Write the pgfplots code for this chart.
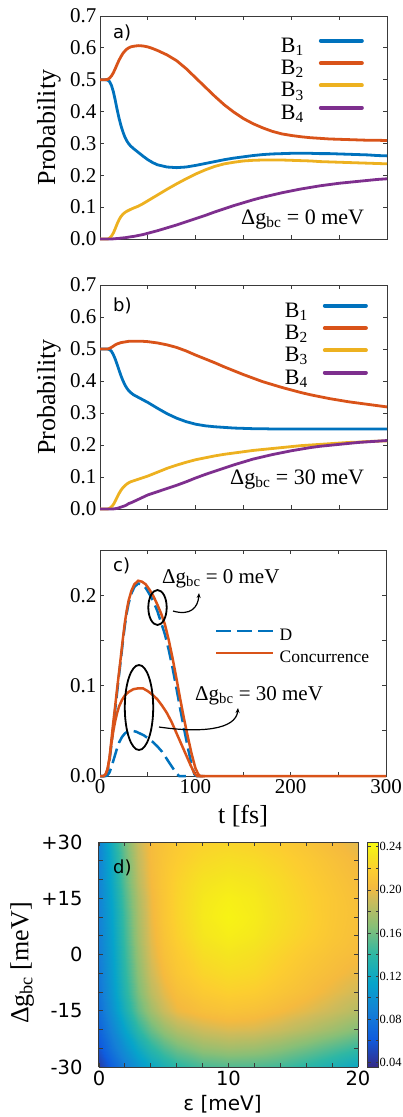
\documentclass[border=0pt]{standalone}
\usepackage{fontspec}
\setmainfont{Liberation Serif}
\newfontfamily\sansf{DejaVu Sans}
\usepackage{pgfplots}
\pgfplotsset{compat=1.18}
\usepackage{pgfplotstable}
\usetikzlibrary{arrows.meta}

\definecolor{mblue}{rgb}{0,0.447,0.741}
\definecolor{morange}{rgb}{0.85,0.325,0.098}
\definecolor{myellow}{rgb}{0.929,0.694,0.125}
\definecolor{mpurple}{rgb}{0.494,0.184,0.556}
\definecolor{frm}{HTML}{3A3A3A}

\pgfplotsset{colormap={parula}{rgb255(0cm)=(53,42,135) rgb255(1.25cm)=(15,92,221) rgb255(2.5cm)=(20,129,214) rgb255(3.75cm)=(6,164,202) rgb255(5cm)=(46,183,164) rgb255(6.25cm)=(135,191,119) rgb255(7.5cm)=(209,187,89) rgb255(8cm)=(245,186,62) rgb255(8.75cm)=(252,205,48) rgb255(9.4cm)=(245,228,32) rgb255(10cm)=(249,251,14)}}

\pgfplotsset{
  panel/.style={
    scale only axis,
    axis line style={frm, line width=1pt},
    every tick/.style={frm, line width=0.8pt},
    tick align=inside,
    major tick length=4pt, minor tick length=4pt,
    tick label style={font=\fontsize{21}{21}\selectfont},
    /pgf/number format/assume math mode=true,
    label style={font=\fontsize{26}{26}\selectfont},
    clip=false,
  },
  probpanel/.style={
    panel, width=287pt, xmin=0, xmax=300, ymin=0, ymax=0.7,
    xtick={0,50,...,300}, xticklabels={},
    ytick={0,0.1,...,0.7},
    yticklabel style={/pgf/number format/.cd, fixed, precision=1, zerofill},
    ylabel={Probability},
    ylabel style={at={(axis description cs:-0.178,0.5)}, anchor=center},
    legend style={draw=none, fill=none, font=\fontsize{22}{22}\selectfont, inner sep=0pt,
      row sep=3.3pt, column sep=15pt, nodes={inner sep=0pt, text height=14pt, text depth=5pt}},
    legend plot pos=right, legend cell align=left,
    legend image code/.code={\draw[##1, line width=4pt, line cap=round] (0pt,7pt) -- (41pt,7pt);},
  },
}

\pgfplotstableread{
t B1 B2 B3 B4
0 0.500 0.500 0 0
5 0.500 0.500 0 0
8 0.499 0.501 0.000 0
10 0.494 0.505 0.003 0
12 0.482 0.512 0.009 0
14 0.462 0.522 0.019 0.0005
16 0.435 0.535 0.033 0.001
18 0.405 0.549 0.048 0.0015
20 0.378 0.562 0.061 0.002
22 0.355 0.573 0.071 0.003
24 0.336 0.583 0.078 0.0035
26 0.320 0.590 0.083 0.004
28 0.308 0.596 0.087 0.005
30 0.299 0.600 0.090 0.006
32 0.292 0.603 0.093 0.007
35 0.284 0.605 0.097 0.008
40 0.272 0.607 0.103 0.011
45 0.260 0.606 0.111 0.014
50 0.249 0.603 0.120 0.018
55 0.240 0.598 0.129 0.022
60 0.233 0.592 0.138 0.026
70 0.226 0.578 0.156 0.035
80 0.224 0.560 0.173 0.044
90 0.226 0.535 0.189 0.054
100 0.231 0.506 0.204 0.064
110 0.237 0.477 0.217 0.074
120 0.243 0.448 0.228 0.085
130 0.249 0.421 0.236 0.095
140 0.254 0.398 0.241 0.105
150 0.258 0.378 0.245 0.114
160 0.262 0.362 0.247 0.123
170 0.265 0.349 0.248 0.131
180 0.267 0.338 0.248 0.138
190 0.268 0.330 0.248 0.145
200 0.269 0.325 0.247 0.151
210 0.269 0.321 0.246 0.157
220 0.269 0.318 0.245 0.162
230 0.268 0.316 0.243 0.167
240 0.268 0.314 0.242 0.171
250 0.267 0.313 0.241 0.175
260 0.266 0.312 0.240 0.178
270 0.265 0.311 0.239 0.181
280 0.264 0.310 0.238 0.184
290 0.262 0.310 0.237 0.187
300 0.261 0.309 0.236 0.189
}\tabA

\pgfplotstableread{
t B1 B2 B3 B4
0 0.500 0.500 0 0
5 0.500 0.500 0 0
8 0.500 0.500 0 0
10 0.498 0.502 0.002 0
12 0.493 0.505 0.007 0
14 0.482 0.509 0.014 0.0003
16 0.468 0.513 0.025 0.001
18 0.451 0.516 0.037 0.002
20 0.433 0.518 0.049 0.004
22 0.416 0.520 0.059 0.006
24 0.401 0.521 0.067 0.008
26 0.388 0.522 0.073 0.010
28 0.378 0.523 0.078 0.013
30 0.370 0.524 0.082 0.017
32 0.364 0.524 0.085 0.019
35 0.357 0.524 0.088 0.023
40 0.349 0.524 0.093 0.030
45 0.341 0.524 0.098 0.037
50 0.333 0.523 0.103 0.044
55 0.324 0.521 0.109 0.049
60 0.315 0.519 0.115 0.054
70 0.298 0.513 0.127 0.064
80 0.284 0.505 0.137 0.074
90 0.273 0.494 0.146 0.085
100 0.265 0.481 0.154 0.097
110 0.260 0.469 0.160 0.108
120 0.257 0.457 0.166 0.118
130 0.255 0.444 0.171 0.128
140 0.253 0.432 0.175 0.138
150 0.252 0.420 0.179 0.147
160 0.251 0.409 0.183 0.156
170 0.251 0.398 0.186 0.163
180 0.250 0.389 0.189 0.170
190 0.250 0.380 0.192 0.176
200 0.250 0.372 0.195 0.182
210 0.250 0.364 0.198 0.187
220 0.250 0.357 0.200 0.192
230 0.250 0.351 0.202 0.196
240 0.250 0.345 0.204 0.199
250 0.250 0.340 0.206 0.202
260 0.250 0.335 0.208 0.205
270 0.250 0.331 0.209 0.208
280 0.250 0.327 0.211 0.210
290 0.250 0.323 0.212 0.212
300 0.250 0.319 0.213 0.214
}\tabB

\pgfplotstableread{
t C
0 0
4 0
6 0.002
8 0.008
10 0.020
12 0.040
14 0.060
16 0.078
18 0.097
20 0.115
22 0.133
24 0.152
26 0.169
28 0.183
30 0.194
33 0.205
36 0.212
40 0.216
44 0.215
48 0.212
52 0.206
56 0.199
60 0.190
64 0.180
68 0.168
72 0.151
76 0.131
80 0.109
84 0.086
88 0.064
92 0.044
96 0.025
100 0.009
103 0.002
105 0
110 0
300 0
}\tabCzero

\pgfplotstableread{
t D
0 0
4 0
6 0.001
8 0.006
10 0.017
12 0.035
14 0.055
16 0.074
18 0.093
20 0.112
22 0.130
24 0.149
26 0.166
28 0.180
30 0.191
33 0.202
36 0.209
40 0.213
44 0.212
48 0.208
52 0.201
56 0.193
60 0.183
64 0.170
68 0.157
72 0.140
76 0.120
80 0.098
84 0.075
88 0.053
92 0.032
96 0.013
99 0.002
101 0
110 0
}\tabDzero

\pgfplotstableread{
t C
0 0
4 0
6 0.002
8 0.008
10 0.020
12 0.036
14 0.050
16 0.061
18 0.070
20 0.077
23 0.084
26 0.089
30 0.093
35 0.096
40 0.097
45 0.097
50 0.094
55 0.090
60 0.085
65 0.078
70 0.070
75 0.060
80 0.048
85 0.036
90 0.024
95 0.012
99 0.003
102 0
110 0
}\tabCthirty

\pgfplotstableread{
t D
0 0
6 0
8 0.001
10 0.004
12 0.010
14 0.017
16 0.024
18 0.031
20 0.037
23 0.043
26 0.047
30 0.050
34 0.050
38 0.049
42 0.047
46 0.045
50 0.042
55 0.038
60 0.033
65 0.027
70 0.019
75 0.011
80 0.003
83 0
90 0
}\tabDthirty

\begin{document}
\begin{tikzpicture}[x=1pt,y=1pt]
\useasboundingbox (0,0) rectangle (402,-1117);

% ---------------- panel a
\begin{axis}[probpanel, at={(100pt,-239pt)}, anchor=south west, height=223pt,
  legend style={at={(axis description cs:0.920,0.901)}, anchor=north east}]
\addplot[mblue, line width=2.8pt] table[x=t,y=B1] {\tabA};
\addlegendentry{B\textsubscript{1}}
\addplot[morange, line width=2.8pt] table[x=t,y=B2] {\tabA};
\addlegendentry{B\textsubscript{2}}
\addplot[myellow, line width=2.8pt] table[x=t,y=B3] {\tabA};
\addlegendentry{B\textsubscript{3}}
\addplot[mpurple, line width=2.8pt] table[x=t,y=B4] {\tabA};
\addlegendentry{B\textsubscript{4}}
\end{axis}
\node[anchor=base west, inner sep=0pt, font=\sansf\fontsize{18}{18}\selectfont] at (113,-38) {a)};
\node[anchor=base west, inner sep=0pt, font=\fontsize{22}{22}\selectfont] at (241,-224) {Δg\textsubscript{bc} = 0 meV};

% ---------------- panel b
\begin{axis}[probpanel, at={(100pt,-509pt)}, anchor=south west, height=224pt,
  legend style={at={(axis description cs:0.934,0.920)}, anchor=north east}]
\addplot[mblue, line width=2.8pt] table[x=t,y=B1] {\tabB};
\addlegendentry{B\textsubscript{1}}
\addplot[morange, line width=2.8pt] table[x=t,y=B2] {\tabB};
\addlegendentry{B\textsubscript{2}}
\addplot[myellow, line width=2.8pt] table[x=t,y=B3] {\tabB};
\addlegendentry{B\textsubscript{3}}
\addplot[mpurple, line width=2.8pt] table[x=t,y=B4] {\tabB};
\addlegendentry{B\textsubscript{4}}
\end{axis}
\node[anchor=base west, inner sep=0pt, font=\sansf\fontsize{18}{18}\selectfont] at (113,-311) {b)};
\node[anchor=base west, inner sep=0pt, font=\fontsize{22}{22}\selectfont] at (230,-484) {Δg\textsubscript{bc} = 30 meV};

% ---------------- panel c
\begin{axis}[panel, at={(100pt,-776pt)}, anchor=south west, width=286pt, height=226pt,
  xmin=0, xmax=300, ymin=0, ymax=0.25,
  xtick={0,100,200,300}, minor xtick={50,150,250},
  ytick={0,0.1,0.2}, minor ytick={0.05,0.15},
  yticklabel style={/pgf/number format/.cd, fixed, precision=1, zerofill},
  xlabel={t [fs]},
  xlabel style={at={(axis description cs:0.5,0)}, anchor=north, yshift=-29pt, inner sep=0pt},
  legend style={draw=none, fill=none, font=\fontsize{17.5}{17.5}\selectfont, inner sep=0pt,
    at={(axis description cs:0.402,0.655)}, anchor=north west,
    row sep=6pt, column sep=5pt, nodes={inner sep=0pt, text height=12pt, text depth=4pt}},
  legend cell align=left,
  legend image code/.code={\draw[#1] (0pt,5pt) -- (57pt,5pt);},
]
\addplot[mblue, line width=2.5pt, dash pattern=on 15pt off 6pt] table[x=t,y=D] {\tabDzero};
\addlegendentry{D}
\addplot[morange, line width=2.5pt] table[x=t,y=C] {\tabCzero};
\addlegendentry{Concurrence}
\addplot[mblue, line width=2.5pt, dash pattern=on 15pt off 6pt, forget plot] table[x=t,y=D] {\tabDthirty};
\addplot[morange, line width=2.5pt, forget plot] table[x=t,y=C] {\tabCthirty};
\end{axis}
\node[anchor=base west, inner sep=0pt, font=\sansf\fontsize{18}{18}\selectfont] at (113,-571) {c)};
\node[anchor=base west, inner sep=0pt, font=\fontsize{21}{21}\selectfont] at (162,-583) {Δg\textsubscript{bc} = 0 meV};
\node[anchor=base west, inner sep=0pt, font=\fontsize{21}{21}\selectfont] at (195,-700) {Δg\textsubscript{bc} = 30 meV};
\draw[black, line width=1.8pt] (157.5,-607.5) ellipse [x radius=9.2, y radius=17.5];
\draw[black, line width=1.8pt] (139,-707.5) ellipse [x radius=14.2, y radius=42.5];
\draw[black, line width=1.2pt, -{Stealth[length=5pt,width=4pt]}] (173,-611) .. controls (190,-616) and (198,-608) .. (199,-593);
\draw[black, line width=1.2pt, -{Stealth[length=5pt,width=4pt]}] (159,-727) .. controls (200,-733) and (236,-730) .. (238,-708);

% ---------------- panel d
\begin{axis}[panel, at={(99pt,-1067pt)}, anchor=south west, width=259pt, height=225pt,
  xmin=0, xmax=20, ymin=-30, ymax=30, view={0}{90}, axis on top, enlargelimits=false,
  xtick={0,10,20}, minor xtick={2,4,6,8,12,14,16,18},
  ytick={-30,-15,0,15,30}, yticklabels={-30,-15,0,+15,+30},
  minor ytick={-25,-20,-10,-5,5,10,20,25},
  tick label style={font=\sansf\fontsize{19.5}{19.5}\selectfont},
  yticklabel style={xshift=-13pt},
  xlabel={\sansf\fontsize{20}{20}\selectfont ε [meV]},
  xlabel style={at={(axis description cs:0.477,0)}, anchor=north, yshift=-28pt, inner sep=0pt},
  ylabel={Δg\textsubscript{bc} [meV]},
  ylabel style={at={(axis description cs:-0.297,0.462)}, anchor=center},
  colormap name=parula, point meta min=0.0355, point meta max=0.2445,
  colorbar,
  colorbar style={scale only axis, width=11pt, height=225pt,
    at={(parent axis.north east)}, anchor=north west, xshift=1pt,
    axis line style={frm, line width=1pt},
    ytick={0.04,0.08,0.12,0.16,0.20,0.24},
    yticklabels={0.04,0.08,0.12,0.16,0.20,0.24},
    minor ytick={0.06,0.10,0.14,0.18,0.22},
    tick align=inside, major tick length=3pt, minor tick length=3pt,
    every tick/.style={frm, line width=0.8pt},
    yticklabel style={font=\fontsize{12.5}{12.5}\selectfont, inner sep=1pt, xshift=0pt}},
]
\addplot3[surf, shader=interp, mesh/rows=13, mesh/cols=14] coordinates {
(0,-30,0.045) (1,-30,0.065) (2,-30,0.085) (3,-30,0.102) (4,-30,0.117) (5,-30,0.128) (6,-30,0.137) (8,-30,0.147) (10,-30,0.150) (12,-30,0.149) (14,-30,0.145) (16,-30,0.137) (18,-30,0.128) (20,-30,0.118)
(0,-25,0.058) (1,-25,0.080) (2,-25,0.100) (3,-25,0.120) (4,-25,0.137) (5,-25,0.150) (6,-25,0.160) (8,-25,0.172) (10,-25,0.176) (12,-25,0.174) (14,-25,0.168) (16,-25,0.160) (18,-25,0.151) (20,-25,0.142)
(0,-20,0.067) (1,-20,0.090) (2,-20,0.114) (3,-20,0.138) (4,-20,0.157) (5,-20,0.171) (6,-20,0.181) (8,-20,0.191) (10,-20,0.195) (12,-20,0.194) (14,-20,0.189) (16,-20,0.182) (18,-20,0.174) (20,-20,0.165)
(0,-15,0.075) (1,-15,0.100) (2,-15,0.128) (3,-15,0.155) (4,-15,0.175) (5,-15,0.190) (6,-15,0.200) (8,-15,0.207) (10,-15,0.210) (12,-15,0.208) (14,-15,0.203) (16,-15,0.197) (18,-15,0.190) (20,-15,0.182)
(0,-10,0.079) (1,-10,0.105) (2,-10,0.135) (3,-10,0.163) (4,-10,0.185) (5,-10,0.198) (6,-10,0.207) (8,-10,0.216) (10,-10,0.220) (12,-10,0.218) (14,-10,0.212) (16,-10,0.206) (18,-10,0.199) (20,-10,0.192)
(0,-5,0.082) (1,-5,0.108) (2,-5,0.139) (3,-5,0.168) (4,-5,0.191) (5,-5,0.204) (6,-5,0.213) (8,-5,0.223) (10,-5,0.227) (12,-5,0.225) (14,-5,0.218) (16,-5,0.211) (18,-5,0.205) (20,-5,0.199)
(0,0,0.085) (1,0,0.110) (2,0,0.142) (3,0,0.172) (4,0,0.195) (5,0,0.208) (6,0,0.216) (8,0,0.228) (10,0,0.232) (12,0,0.229) (14,0,0.222) (16,0,0.215) (18,0,0.209) (20,0,0.204)
(0,5,0.087) (1,5,0.112) (2,5,0.145) (3,5,0.176) (4,5,0.198) (5,5,0.211) (6,5,0.220) (8,5,0.233) (10,5,0.237) (12,5,0.234) (14,5,0.227) (16,5,0.220) (18,5,0.213) (20,5,0.207)
(0,10,0.088) (1,10,0.114) (2,10,0.147) (3,10,0.178) (4,10,0.200) (5,10,0.213) (6,10,0.222) (8,10,0.235) (10,10,0.240) (12,10,0.236) (14,10,0.229) (16,10,0.222) (18,10,0.214) (20,10,0.208)
(0,15,0.089) (1,15,0.116) (2,15,0.150) (3,15,0.180) (4,15,0.201) (5,15,0.213) (6,15,0.222) (8,15,0.234) (10,15,0.238) (12,15,0.235) (14,15,0.228) (16,15,0.221) (18,15,0.214) (20,15,0.207)
(0,20,0.090) (1,20,0.119) (2,20,0.154) (3,20,0.184) (4,20,0.203) (5,20,0.213) (6,20,0.221) (8,20,0.231) (10,20,0.234) (12,20,0.232) (14,20,0.226) (16,20,0.219) (18,20,0.212) (20,20,0.205)
(0,25,0.090) (1,25,0.122) (2,25,0.157) (3,25,0.187) (4,25,0.204) (5,25,0.212) (6,25,0.218) (8,25,0.226) (10,25,0.229) (12,25,0.227) (14,25,0.222) (16,25,0.216) (18,25,0.209) (20,25,0.202)
(0,30,0.090) (1,30,0.125) (2,30,0.160) (3,30,0.189) (4,30,0.204) (5,30,0.210) (6,30,0.215) (8,30,0.221) (10,30,0.223) (12,30,0.221) (14,30,0.217) (16,30,0.211) (18,30,0.204) (20,30,0.197)
};
\end{axis}
\node[anchor=base west, inner sep=0pt, font=\sansf\fontsize{18}{18}\selectfont] at (113,-873) {d)};
\end{tikzpicture}
\end{document}
